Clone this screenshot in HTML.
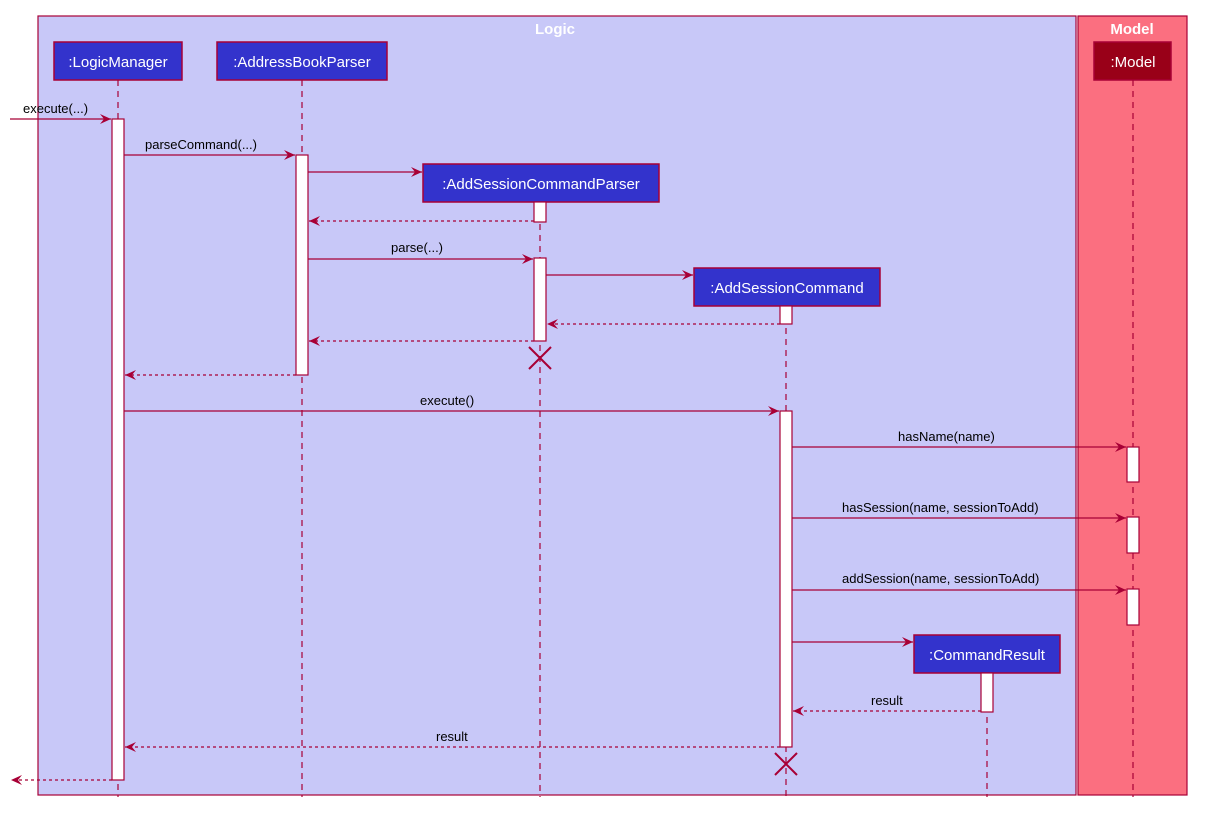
<!DOCTYPE html>
<html><head><meta charset="utf-8"><style>body{margin:0;background:#fff}svg{display:block}text{font-family:"Liberation Sans",sans-serif}</style></head><body>
<svg width="1229" height="817" viewBox="0 0 1229 817">
<defs>
<marker id="a" markerWidth="12" markerHeight="10" refX="11" refY="5" orient="auto" markerUnits="userSpaceOnUse"><path d="M0,0 L11,5 L0,10 L4,5 Z" fill="#a80036"/></marker>
</defs>
<rect x="38" y="16" width="1038" height="779" fill="#c8c8f8" stroke="#a80036" stroke-width="1.2"/>
<rect x="1078" y="16" width="109" height="779" fill="#fb6f80" stroke="#a80036" stroke-width="1.2"/>
<text x="555" y="34" fill="#fff" font-size="15" font-weight="bold" text-anchor="middle">Logic</text>
<text x="1132" y="34" fill="#fff" font-size="15" font-weight="bold" text-anchor="middle">Model</text>
<g stroke="#a80036" stroke-width="1.2" stroke-dasharray="6,5">
<line x1="118" y1="80" x2="118" y2="797"/>
<line x1="302" y1="80" x2="302" y2="797"/>
<line x1="540" y1="202" x2="540" y2="797"/>
<line x1="786" y1="306" x2="786" y2="797"/>
<line x1="987" y1="673" x2="987" y2="797"/>
<line x1="1133" y1="80" x2="1133" y2="797"/>
</g>
<g stroke="#a80036" stroke-width="1.5" font-size="15" fill="#3333cc">
<rect x="54" y="42" width="128" height="38"/>
<rect x="217" y="42" width="170" height="38"/>
<rect x="423" y="164" width="236" height="38"/>
<rect x="694" y="268" width="186" height="38"/>
<rect x="914" y="635" width="146" height="38"/>
<rect x="1094" y="42" width="77" height="38" fill="#990018"/>
</g>
<g fill="#fff" font-size="15" text-anchor="middle">
<text x="118" y="67">:LogicManager</text>
<text x="302" y="67">:AddressBookParser</text>
<text x="541" y="189">:AddSessionCommandParser</text>
<text x="787" y="293">:AddSessionCommand</text>
<text x="987" y="660">:CommandResult</text>
<text x="1133" y="67">:Model</text>
</g>
<g fill="#fff" stroke="#a80036" stroke-width="1.2">
<rect x="112" y="119" width="12" height="661"/>
<rect x="296" y="155" width="12" height="220"/>
<rect x="534" y="202" width="12" height="20"/>
<rect x="534" y="258" width="12" height="83"/>
<rect x="780" y="306" width="12" height="18"/>
<rect x="780" y="411" width="12" height="336"/>
<rect x="1127" y="447" width="12" height="35"/>
<rect x="1127" y="517" width="12" height="36"/>
<rect x="1127" y="589" width="12" height="36"/>
<rect x="981" y="673" width="12" height="39"/>
</g>
<g stroke="#a80036" stroke-width="1.2" fill="none" marker-end="url(#a)">
<line x1="10" y1="119" x2="111" y2="119"/>
<line x1="124" y1="155" x2="295" y2="155"/>
<line x1="308" y1="172" x2="422" y2="172"/>
<line x1="308" y1="259" x2="533" y2="259"/>
<line x1="546" y1="275" x2="693" y2="275"/>
<line x1="124" y1="411" x2="779" y2="411"/>
<line x1="792" y1="447" x2="1126" y2="447"/>
<line x1="792" y1="518" x2="1126" y2="518"/>
<line x1="792" y1="590" x2="1126" y2="590"/>
<line x1="792" y1="642" x2="913" y2="642"/>
<g stroke-dasharray="3,3">
<line x1="534" y1="221" x2="309" y2="221"/>
<line x1="780" y1="324" x2="547" y2="324"/>
<line x1="534" y1="341" x2="309" y2="341"/>
<line x1="296" y1="375" x2="125" y2="375"/>
<line x1="981" y1="711" x2="793" y2="711"/>
<line x1="780" y1="747" x2="125" y2="747"/>
<line x1="112" y1="780" x2="11" y2="780"/>
</g>
</g>
<g stroke="#a80036" stroke-width="2">
<line x1="529" y1="347" x2="551" y2="369"/><line x1="551" y1="347" x2="529" y2="369"/>
<line x1="775" y1="753" x2="797" y2="775"/><line x1="797" y1="753" x2="775" y2="775"/>
</g>
<g font-size="13" fill="#000">
<text x="23" y="113">execute(...)</text>
<text x="145" y="149">parseCommand(...)</text>
<text x="391" y="252">parse(...)</text>
<text x="420" y="405">execute()</text>
<text x="898" y="441">hasName(name)</text>
<text x="842" y="512">hasSession(name, sessionToAdd)</text>
<text x="842" y="583">addSession(name, sessionToAdd)</text>
<text x="871" y="705">result</text>
<text x="436" y="741">result</text>
</g>
</svg>
</body></html>
